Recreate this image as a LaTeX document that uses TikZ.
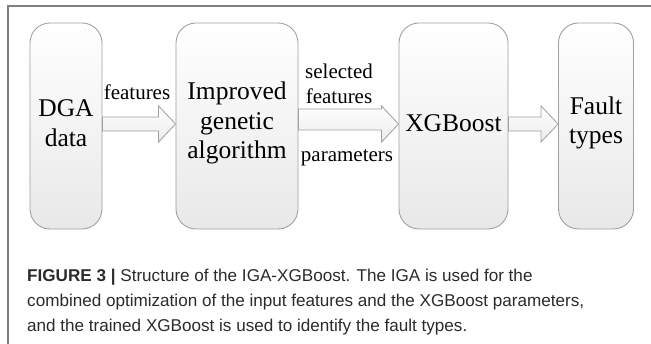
\documentclass[tikz,border=0pt]{standalone}
\usepackage{fontspec}
\setmainfont{Liberation Serif}
\newfontfamily\capfont{Liberation Sans}
\usetikzlibrary{calc}
\definecolor{framegray}{HTML}{7F7F7F}
\definecolor{boxline}{HTML}{A0A0A0}
\definecolor{captext}{HTML}{2B2B2B}
\begin{document}
\begin{tikzpicture}[x=1pt,y=-1pt,
  box/.style={rectangle, draw=boxline, line width=0.9pt, rounded corners=20pt,
    top color=white, bottom color=black!9, inner sep=0pt},
  boxtext/.style={align=center, font=\fontsize{25.5}{29.5}\selectfont, inner sep=0pt},
  lbl/.style={align=center, font=\fontsize{21}{25}\selectfont, inner sep=0pt},
  blockarrow/.style={draw=boxline, line width=0.8pt, top color=white, bottom color=black!8, line join=miter},
  captxt/.style={anchor=base west, inner sep=0pt, text=captext, font=\capfont\fontsize{17.1}{25}\selectfont}
]
\useasboundingbox (0,0) rectangle (651,344);
\fill[white] (0,0) rectangle (651,344);
% frame
\draw[framegray, line width=1.5pt] (8,344) -- (8,6) -- (651,6);

% boxes
\node[box, minimum width=72pt, minimum height=206pt] (dga) at (66,126) {};
\node[box, minimum width=122pt, minimum height=206pt] (iga) at (237,126) {};
\node[box, minimum width=109pt, minimum height=206pt] (xgb) at (453.5,126) {};
\node[box, minimum width=75pt, minimum height=206pt] (flt) at (596,126) {};

% box texts
\node[boxtext] (tdga) at (66,123) {DGA\\data};
\node[boxtext] (tiga) at (237,123) {Improved\\genetic\\algorithm};
\node[boxtext] (txgb) at (453.5,123) {XGBoost};
\node[boxtext] (tflt) at (596,123) {Fault\\types};

% block arrows
\coordinate (h1) at ([xshift=-17pt]iga.west);
\coordinate (h2) at ([xshift=-17pt]xgb.west);
\coordinate (h3) at ([xshift=-17pt]flt.west);
\path[blockarrow] (dga.east |- 0,117) -- (h1 |- 0,117) -- (h1 |- 0,106) -- (iga.west |- 0,124)
   -- (h1 |- 0,142) -- (h1 |- 0,131) -- (dga.east |- 0,131) -- cycle;
\path[blockarrow] (iga.east |- 0,109) -- (h2 |- 0,109) -- (h2 |- 0,106) -- (xgb.west |- 0,124)
   -- (h2 |- 0,142) -- (h2 |- 0,130) -- (iga.east |- 0,130) -- cycle;
\path[blockarrow] (xgb.east |- 0,117) -- (h3 |- 0,117) -- (h3 |- 0,106) -- (flt.west |- 0,124)
   -- (h3 |- 0,142) -- (h3 |- 0,131) -- (xgb.east |- 0,131) -- cycle;

% arrow labels
\node[lbl] (l1) at (137,92) {features};
\node[lbl] (l2) at (339,84) {selected\\features};
\node[lbl] (l3) at (347,158) {parameters};

% caption
\node[captxt] (c1) at (27,282) {\textbf{FIGURE 3 |} Structure of the IGA-XGBoost. The IGA is used for the};
\node[captxt] (c2) at (27,307) {combined optimization of the input features and the XGBoost parameters,};
\node[captxt] (c3) at (27,332) {and the trained XGBoost is used to identify the fault types.};
\end{tikzpicture}
\end{document}
